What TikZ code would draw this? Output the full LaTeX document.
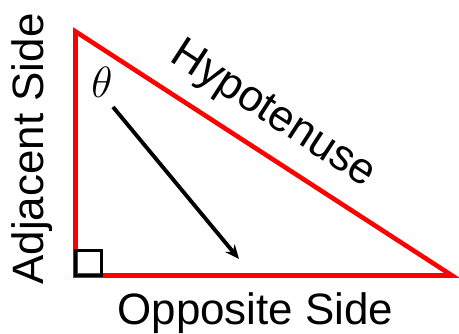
\documentclass[tikz,border=0pt]{standalone}
\usepackage{fontspec}
\setmainfont{Liberation Sans}
\usetikzlibrary{arrows.meta}

\begin{document}
\begin{tikzpicture}[x=0.02cm,y=0.02cm,
  lbl/.style={inner sep=0pt,font=\fontsize{25}{30}\selectfont}]
\useasboundingbox (0,0) rectangle (459,334);
\coordinate (A) at (75.5,302.5);
\coordinate (C) at (75.5,58.5);
\coordinate (B) at (452,58.5);
\draw[red,line width=2.6pt] (A)--(C)--(B)--cycle;
\draw[line width=1.9pt] (C) rectangle ++(26,25);
\node[lbl] (theta) at (102,252) {$\theta$};
\coordinate (tail) at (113,227);
\coordinate (tip) at (239,75);
\draw[line width=2.2pt,-{Stealth[length=0.28cm,width=0.24cm]}] (tail)--(tip);
\node[lbl,rotate=90,anchor=base] (adj) at (43.5,185) {Adjacent Side};
\node[lbl,anchor=base] (opp) at (255.5,9) {Opposite Side};
\node[lbl,rotate=-33,anchor=base] (hyp) at (267,210) {Hypotenuse};
\end{tikzpicture}
\end{document}
